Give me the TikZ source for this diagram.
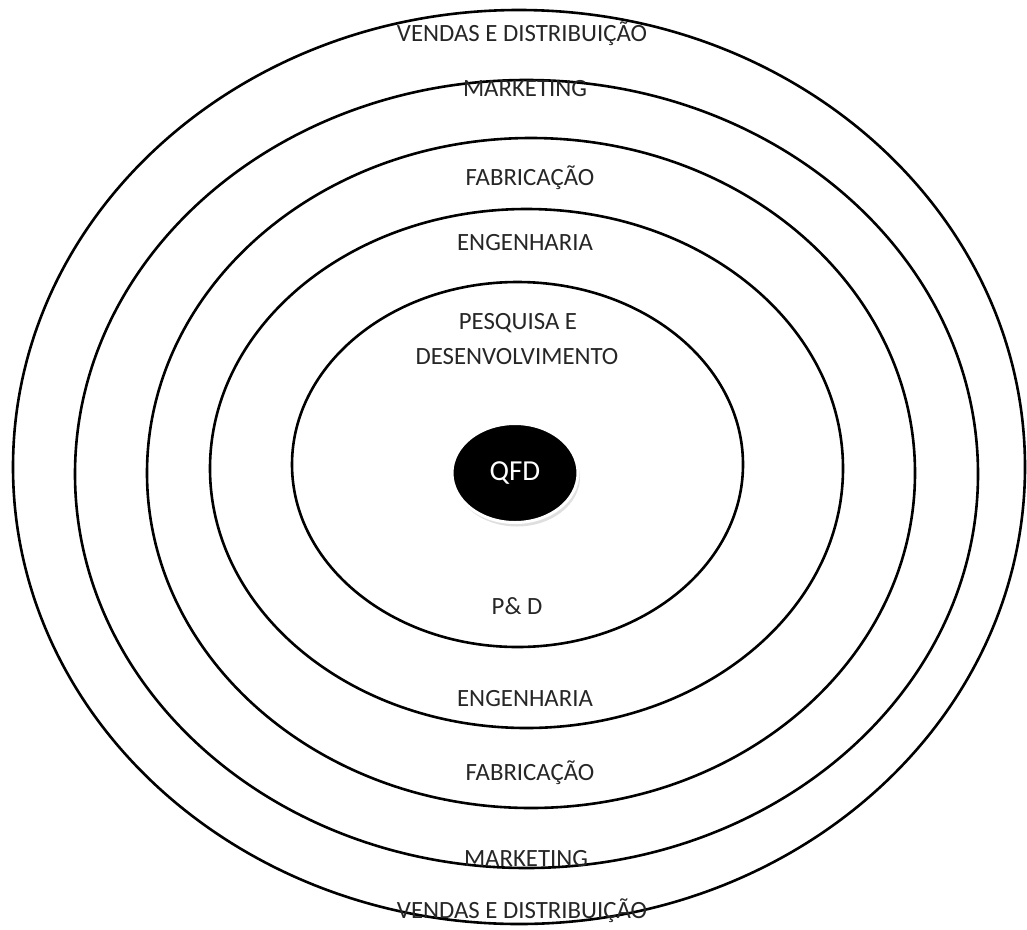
\documentclass[tikz,border=0pt]{standalone}
\usepackage{fontspec}
\setmainfont{Carlito}
\usetikzlibrary{shapes.geometric}
\usetikzlibrary{shadows}

\begin{document}
\begin{tikzpicture}[x=1pt, y=-1pt]

        \def\ringwidth{2.6pt}

        \tikzset{
          ring/.style = {draw, line width=\ringwidth},
          area/.style = {font=\fontsize{24.8}{29}\selectfont, text=black!85, inner sep=0pt, align=center},
          core/.style = {ellipse, fill=black, draw=white, line width=3pt, text=white,
                         minimum width=126pt, minimum height=99pt, inner sep=0pt,
                         font=\fontsize{29}{34}\selectfont,
                         drop shadow={opacity=0.25, shadow xshift=2pt, shadow yshift=-4pt}}
        }

        \useasboundingbox (0,0) rectangle (1027,929);

        \draw[ring] (519,467) ellipse [x radius=506, y radius=457];
        \draw[ring] (526.5,474) ellipse [x radius=451.5, y radius=394];
        \draw[ring] (531,473) ellipse [x radius=384, y radius=335];
        \draw[ring] (526.5,468.5) ellipse [x radius=316.5, y radius=259.5];
        \draw[ring] (517.5,464.5) ellipse [x radius=225.5, y radius=182.5];

        \node [core] (qfd) at (515,473) {QFD};

        \node [area] (vendastop) at (522,34) {VENDAS E DISTRIBUIÇÃO};
        \node [area] (marketingtop) at (525,89) {MARKETING};
        \node [area] (fabricacaotop) at (530,178) {FABRICAÇÃO};
        \node [area] (engenhariatop) at (525,243) {ENGENHARIA};
        \node [area] (pesquisa) at (518,323) {PESQUISA E};
        \node [area] (desenvolvimento) at (517,357) {DESENVOLVIMENTO};

        \node [area] (pd) at (517,606) {P\& D};
        \node [area] (engenhariabot) at (525,699) {ENGENHARIA};
        \node [area] (fabricacaobot) at (530,773) {FABRICAÇÃO};
        \node [area] (marketingbot) at (526,859) {MARKETING};
        \node [area] (vendasbot) at (522,911) {VENDAS E DISTRIBUIÇÃO};

      \end{tikzpicture}
\end{document}
